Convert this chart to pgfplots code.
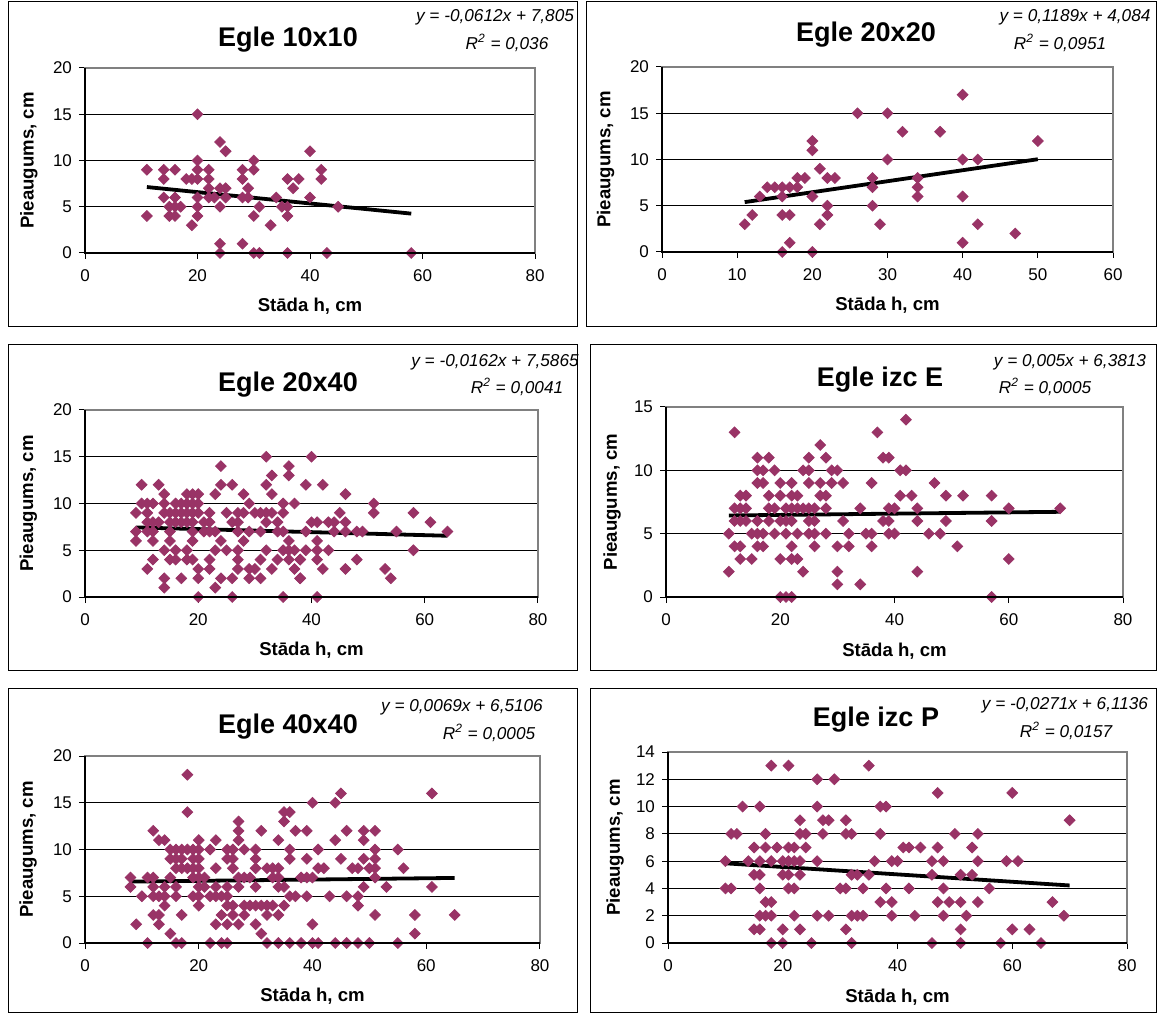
\documentclass[border=0pt]{standalone}
\usepackage{fontspec}
\setmainfont{Liberation Sans}
\usepackage{pgfplots}
\pgfplotsset{compat=1.18}
\definecolor{plum}{HTML}{993366}
\pgfplotsset{
 panel/.style={
  scale only axis,
  xmin=0,xmax=80,xtick={0,20,40,60,80},ymin=0,
  ymajorgrids, grid style={black,line width=0.5pt},
  axis line style={draw=gray,line width=0.8pt},
  tick pos=left, tick align=outside, major tick length=3pt,
  tick style={black,line width=0.5pt},
  ticklabel style={font=\fontsize{8.5}{10}\selectfont},
  xticklabel style={yshift=-2pt},
  /pgf/number format/assume math mode=true,
  label style={font=\bfseries\fontsize{9.3}{11}\selectfont},
  xlabel={Stāda h, cm}, ylabel={Pieaugums, cm},
  xlabel style={at={(axis description cs:0.5,-0.285)},anchor=center},
  ylabel style={at={(axis description cs:-0.125,0.5)},anchor=center},
  after end axis/.code={\draw[black,line width=0.6pt] (rel axis cs:0,1)--(rel axis cs:0,0)--(rel axis cs:1,0);},
 },
 pts/.style={only marks, mark=square*, mark size=1.9pt, mark options={rotate=45,fill=plum,draw=plum}},
 trend/.style={black,line width=1.9pt,no marks},
}
\newcommand{\ttl}[1]{\bfseries\fontsize{13.5}{16}\selectfont #1}
\newcommand{\eqf}{\itshape\fontsize{8.6}{10}\selectfont}
\begin{document}
\begin{tikzpicture}
\useasboundingbox (0,0) rectangle (580pt,506.5pt);
% frames
\draw[black,line width=0.5pt] (4pt,505.5pt) rectangle (288.5pt,343pt);
\draw[black,line width=0.5pt] (293pt,505.5pt) rectangle (578pt,343pt);
\draw[black,line width=0.5pt] (4pt,334pt) rectangle (288.5pt,171.5pt);
\draw[black,line width=0.5pt] (295pt,334pt) rectangle (578pt,171.5pt);
\draw[black,line width=0.5pt] (4pt,162.5pt) rectangle (288.5pt,0.5pt);
\draw[black,line width=0.5pt] (295pt,162.5pt) rectangle (578pt,0.5pt);

% Panel 1
\begin{axis}[panel, at={(42.5pt,380pt)}, anchor=south west, width=225pt, height=92.5pt,
  ymax=20, ytick={0,5,10,15,20}]
\addplot[pts] coordinates {(11,9)(11,4)(14,9)(14,8)(16,9)(14,6)(16,6)(15,5)(16,5)(17,5)(15,4)(16,4)(18,8)(19,8)(20,15)(20,10)(20,9)(20,8)(20,6)(20,5)(20,4)(19,3)(22,9)(22,8)(22,7)(22,6)(23,6)(24,12)(25,11)(24,7)(25,7)(25,6)(24,5)(24,1)(24,0)(28,9)(28,8)(30,10)(30,9)(29,7)(28,6)(29,6)(28,1)(30,4)(31,5)(30,0)(31,0)(33,3)(34,6)(35,5)(36,5)(36,8)(36,4)(36,0)(37,7)(38,8)(40,11)(40,6)(42,9)(42,8)(43,0)(45,5)(58,0)};
\addplot[trend] coordinates {(11,7.132)(58,4.255)};
\end{axis}

% Panel 2
\begin{axis}[panel, at={(331pt,380.5pt)}, anchor=south west, width=225.5pt, height=92.5pt,
  xmax=60, xtick={0,10,20,30,40,50,60}, ymax=20, ytick={0,5,10,15,20}]
\addplot[pts] coordinates {(11,3)(12,4)(13,6)(14,7)(15,7)(16,7)(17,7)(16,6)(16,4)(17,4)(17,1)(16,0)(18,7)(18,8)(19,8)(20,12)(20,11)(20,6)(20,0)(21,9)(21,3)(22,8)(23,8)(22,5)(22,4)(26,15)(28,8)(28,7)(28,5)(29,3)(30,15)(30,10)(32,13)(34,8)(34,7)(34,6)(37,13)(40,17)(40,10)(40,6)(40,1)(42,10)(42,3)(47,2)(50,12)};
\addplot[trend] coordinates {(11,5.392)(50,10.029)};
\end{axis}

% Panel 3
\begin{axis}[panel, at={(42.5pt,208pt)}, anchor=south west, width=226.5pt, height=93.5pt,
  ymax=20, ytick={0,5,10,15,20}]
\addplot[pts] coordinates {(20,0)(26,0)(35,0)(41,0)(14,1)(23,1)(11,3)(12,4)(14,2)(17,2)(20,2)(20,3)(22,3)(22,4)(24,2)(26,2)(27,3)(27,4)(27,5)(29,2)(29,3)(30,3)(31,2)(31,4)(32,5)(33,3)(34,4)(35,5)(36,5)(36,4)(37,5)(37,3)(38,2)(38,4)(39,5)(39,7)(41,4)(41,5)(41,6)(42,3)
(10,12)(13,12)(24,14)(24,12)(26,12)(32,15)(32,12)(33,13)(36,14)(36,13)(40,15)(39,12)(42,12)
(14,11)(18,11)(19,11)(20,11)(23,11)(28,11)(33,11)
(10,10)(11,10)(12,10)(14,10)(16,10)(17,10)(18,10)(19,10)(20,10)(29,10)(35,10)(37,10)
(9,9)(11,9)(14,9)(15,9)(16,9)(17,9)(18,9)(19,9)(20,9)(22,9)(25,9)(27,9)(28,9)(30,9)(31,9)(32,9)(33,9)(35,9)
(11,8)(12,8)(13,8)(15,8)(16,8)(17,8)(18,8)(19,8)(21,8)(22,8)(26,8)(27,8)(32,8)(34,8)(41,8)
(9,7)(11,7)(12,7)(15,7)(19,7)(21,7)(22,7)(23,7)(27,7)(29,7)(31,7)(34,7)(35,7)
(9,6)(12,6)(15,6)(19,6)(24,6)(28,6)(36,6)
(14,5)(16,5)(18,5)(23,5)(25,5)
(15,4)(16,4)(18,4)(19,4)
(46,11)(51,10)(51,9)(45,9)(40,8)(43,8)(44,8)(46,8)(44,7)(46,7)(48,7)(49,7)(55,7)(58,9)(61,8)(64,7)(43,5)(58,5)(38,4)(48,4)(46,3)(53,3)(54,2)(38,2)};
\addplot[trend] coordinates {(9,7.440)(64,6.550)};
\end{axis}

% Panel 4
\begin{axis}[panel, at={(333pt,208pt)}, anchor=south west, width=228.5pt, height=95pt,
  ymax=15, ytick={0,5,10,15}, ylabel style={at={(axis description cs:-0.118,0.5)}}]
\addplot[pts] coordinates {(12,13)(11,2)(11,5)(12,7)(12,6)(13,8)(14,8)(13,7)(14,7)(13,6)(14,6)(12,4)(13,4)(13,3)(15,3)(15,5)(16,11)(16,10)(17,10)(16,9)(17,9)(16,6)(16,5)(17,5)(16,4)(17,4)(18,11)(19,10)(18,8)(18,7)(19,7)(18,6)(19,5)(20,9)(20,8)(20,6)(20,3)(20,0)(21,0)(22,0)(21,7)(22,7)(23,7)(24,7)(25,7)(26,7)(22,9)(22,8)(23,8)(21,6)(22,6)(21,5)(23,5)(22,4)(22,3)(23,3)(24,2)(24,10)(25,10)(25,11)(25,9)(25,6)(26,6)(25,5)(26,5)(26,4)(27,12)(28,11)(27,9)(27,8)(28,8)(28,7)(28,5)(29,10)(30,10)(29,9)(31,9)(30,4)(30,2)(30,1)(31,6)(32,5)(32,4)(34,7)(34,1)(35,5)(36,5)(36,4)(36,9)(37,13)(38,11)(39,11)(38,6)(39,7)(40,7)(39,5)(40,5)(41,10)(41,8)(42,14)(42,10)(47,9)(43,8)(49,8)(52,8)(57,8)(44,7)(60,7)(69,7)(39,6)(44,6)(49,6)(57,6)(46,5)(48,5)(51,4)(60,3)(44,2)(57,0)};
\addplot[trend] coordinates {(11,6.436)(69,6.726)};
\end{axis}

% Panel 5
\begin{axis}[panel, at={(42.5pt,35pt)}, anchor=south west, width=227.5pt, height=93.5pt,
  ymax=20, ytick={0,5,10,15,20}]
\addplot[pts] coordinates {(8,7)(8,6)(9,2)(10,5)(11,7)(12,7)(12,6)(12,5)(13,5)(12,12)(13,11)(14,11)(11,0)(12,3)(13,3)(13,2)(14,6)(14,5)(14,4)(15,7)(15,10)(16,10)(17,10)(18,10)(19,10)(20,10)(15,9)(16,9)(17,9)(19,9)(20,9)(16,8)(17,8)(18,8)(19,8)(20,8)(15,1)(16,0)(17,0)(16,6)(16,5)(17,3)(18,18)(18,14)(19,7)(20,7)(21,7)(20,6)(21,6)(19,5)(20,5)(20,4)(20,11)(22,10)(23,11)(23,8)(22,5)(23,5)(24,5)(23,6)(22,0)(24,0)(25,0)(23,2)(24,3)(25,2)(27,2)(25,10)(26,10)(25,9)(26,9)(26,8)(25,6)(25,5)(25,4)(26,4)(26,3)(27,13)(27,12)(27,11)(27,7)(27,6)(28,10)(28,7)(29,7)(28,4)(29,4)(28,3)(30,10)(30,9)(30,8)(31,12)(30,6)(30,4)(31,4)(32,4)(33,4)(30,2)(31,1)(32,0)(34,0)(32,8)(33,8)(34,8)(32,3)(34,3)(33,7)(34,7)(34,6)(35,6)(34,11)(35,14)(36,14)(35,13)(35,4)(36,10)(36,9)(36,0)(38,0)(40,0)(41,0)(36,5)(37,5)(37,12)(39,12)(38,7)(39,7)(39,5)(39,9)(40,15)(40,2)(41,10)(41,8)(42,8)
(44,15)(45,16)(61,16)(46,12)(49,12)(51,12)(44,11)(49,11)(51,10)(55,10)(45,9)(49,9)(51,9)(47,8)(48,8)(50,8)(51,8)(56,8)(40,7)(51,7)(49,6)(53,6)(61,6)(43,5)(46,5)(48,5)(48,4)(51,3)(58,3)(65,3)(58,1)(44,0)(46,0)(48,0)(50,0)(55,0)};
\addplot[trend] coordinates {(8,6.566)(65,6.959)};
\end{axis}

% Panel 6
\begin{axis}[panel, at={(334pt,35pt)}, anchor=south west, width=229.5pt, height=95.5pt,
  ymax=14, ytick={0,2,4,6,8,10,12,14}, ylabel style={at={(axis description cs:-0.115,0.5)}}]
\addplot[pts] coordinates {(10,6)(10,4)(11,4)(11,8)(12,8)(13,10)(16,10)(14,6)(15,7)(16,6)(15,5)(16,5)(16,4)(17,8)(17,7)(17,3)(18,3)(16,2)(17,2)(18,2)(15,1)(16,1)(18,13)(21,13)(18,6)(18,0)(20,0)(19,7)(21,7)(22,7)(24,7)(20,6)(21,6)(22,6)(23,6)(20,5)(21,5)(23,5)(21,4)(22,4)(22,2)(20,1)(23,1)(23,9)(23,8)(24,8)(25,0)(26,12)(29,12)(26,10)(27,9)(28,9)(27,8)(26,6)(26,2)(28,2)(31,9)(31,8)(32,8)(30,4)(31,4)(31,1)(32,0)(32,5)(33,5)(35,5)(32,2)(33,2)(34,2)(34,4)(35,13)(36,6)(37,10)(38,10)(37,8)(37,3)(38,4)(39,3)(39,2)(39,6)(40,6)(41,7)
(47,11)(60,11)(70,9)(50,8)(54,8)(42,7)(44,7)(47,7)(53,7)(46,6)(48,6)(54,6)(59,6)(61,6)(46,5)(51,5)(53,5)(42,4)(48,4)(56,4)(47,3)(49,3)(51,3)(54,3)(67,3)(43,2)(48,2)(52,2)(69,2)(51,1)(60,1)(63,1)(46,0)(51,0)(58,0)(65,0)};
\addplot[trend] coordinates {(10,5.842)(70,4.217)};
\end{axis}

% titles
\node at (144pt,486.5pt) {\ttl{Egle 10x10}};
\node at (433pt,489pt) {\ttl{Egle 20x20}};
\node at (144pt,314pt) {\ttl{Egle 20x40}};
\node at (440pt,316.5pt) {\ttl{Egle izc E}};
\node at (144pt,143pt) {\ttl{Egle 40x40}};
\node at (438pt,146.5pt) {\ttl{Egle izc P}};
% equations
\node at (247.5pt,498pt) {\eqf y = -0,0612x + 7,805};
\node at (253.5pt,485pt) {\eqf R\textsuperscript{2} = 0,036};
\node at (537.5pt,498pt) {\eqf y = 0,1189x + 4,084};
\node at (530pt,485pt) {\eqf R\textsuperscript{2} = 0,0951};
\node at (247.5pt,325.5pt) {\eqf y = -0,0162x + 7,5865};
\node at (258.5pt,313pt) {\eqf R\textsuperscript{2} = 0,0041};
\node at (535pt,325.5pt) {\eqf y = 0,005x + 6,3813};
\node at (522.5pt,313pt) {\eqf R\textsuperscript{2} = 0,0005};
\node at (231pt,153pt) {\eqf y = 0,0069x + 6,5106};
\node at (244.5pt,140pt) {\eqf R\textsuperscript{2} = 0,0005};
\node at (532.5pt,154pt) {\eqf y = -0,0271x + 6,1136};
\node at (533pt,141pt) {\eqf R\textsuperscript{2} = 0,0157};
\end{tikzpicture}
\end{document}
